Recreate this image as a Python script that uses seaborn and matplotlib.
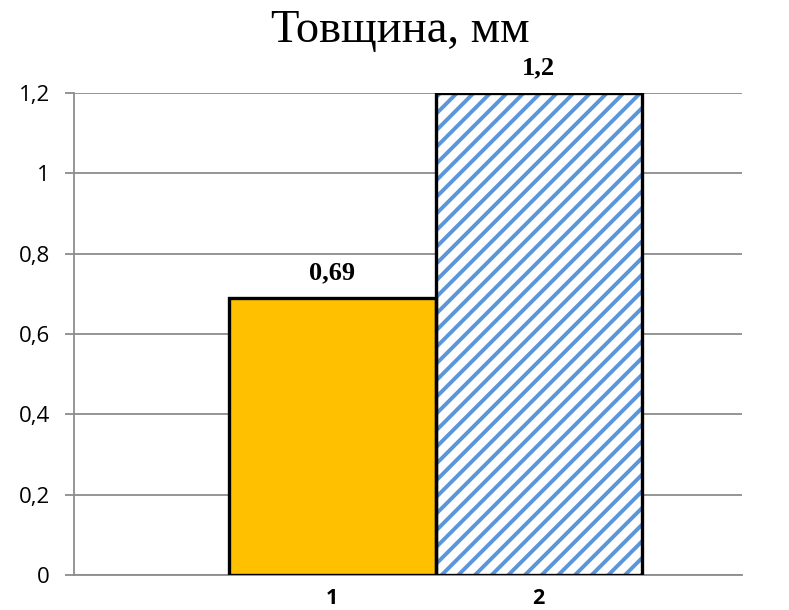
import matplotlib
matplotlib.use("Agg")
import matplotlib.pyplot as plt
import seaborn as sns
import pandas as pd

# Data
categories = ["1", "2"]
thickness = [0.69, 1.2]
value_labels = ["0,69", "1,2"]
y_ticks = [0, 0.2, 0.4, 0.6, 0.8, 1.0, 1.2]
y_tick_labels = ["0", "0,2", "0,4", "0,6", "0,8", "1", "1,2"]
title = "Товщина, мм"

df = pd.DataFrame({"sample": categories, "value": thickness})

sns.set_theme(style="white")
plt.rcParams["hatch.linewidth"] = 2.8
plt.rcParams["text.color"] = "black"
plt.rcParams["xtick.color"] = "black"
plt.rcParams["ytick.color"] = "black"

fig = plt.figure(figsize=(7.89, 6.10), dpi=100)
ax = fig.add_axes([74 / 789, 1 - 575 / 610, (742 - 74) / 789, (575 - 93) / 610])

grid_col = "#8c8c8c"
orange = "#FFC000"
blue = "#5B95DA"

# Filled bars
sns.barplot(data=df, x="sample", y="value", hue="sample",
            palette=[orange, "white"], saturation=1, width=1.0, legend=False,
            linewidth=0, ax=ax, zorder=3)
hatched = ax.patches[1]
hatched.set_hatch("//")
hatched.set_edgecolor(blue)
hatched.set_linewidth(0)

# Black outlines on top
sns.barplot(data=df, x="sample", y="value", color="black", fill=False,
            width=1.0, linewidth=2.4, ax=ax, zorder=4)
for p in ax.patches[2:]:
    p.set_edgecolor("black")
    p.set_facecolor("none")

ax.set_xlim(-1.252, 1.985)
ax.set_ylim(0, 1.2)
ax.set_yticks(y_ticks)
ax.set_yticklabels(y_tick_labels, fontsize=16, family="Open Sans", color="black")
ax.set_xticks([0, 1])
ax.set_xticklabels(categories, fontsize=15.5, fontweight="bold", family="Open Sans",
                   color="black")

ax.grid(axis="y", color=grid_col, linewidth=1.3, zorder=0)
ax.set_axisbelow(True)
for side in ["top", "right"]:
    ax.spines[side].set_visible(False)
for side in ["left", "bottom"]:
    ax.spines[side].set_color(grid_col)
    ax.spines[side].set_linewidth(1.3)
ax.tick_params(axis="y", left=True, length=6.5, width=1.3, color=grid_col, pad=11)
ax.tick_params(axis="x", bottom=False, pad=3)
ax.set_xlabel("")
ax.set_ylabel("")

# Value labels above bars
for i, (v, lab) in enumerate(zip(thickness, value_labels)):
    ax.annotate(lab, (i, v), xytext=(0, 10), textcoords="offset points",
                ha="center", va="bottom", fontsize=19, fontweight="bold",
                family="Liberation Serif", color="black", annotation_clip=False)

fig.text(0.508, 1 - 42 / 610, title, ha="center", va="baseline",
         fontsize=33.5, family="Liberation Serif", color="black")

fig.savefig("out.png", dpi=100, facecolor="white")
